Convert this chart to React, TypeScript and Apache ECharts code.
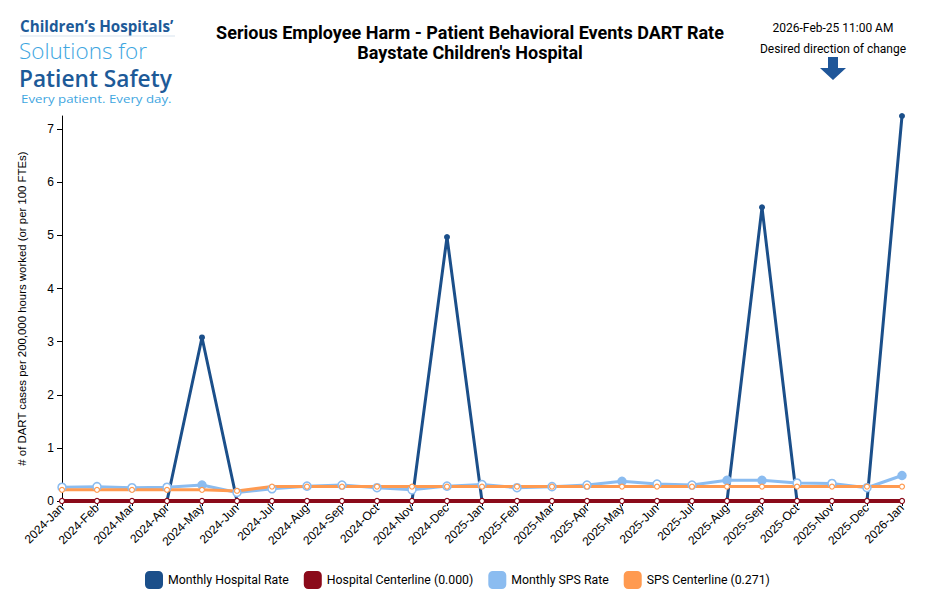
import React, { useEffect, useRef } from "react";
import * as echarts from "echarts";

const months = [
  "2024-Jan", "2024-Feb", "2024-Mar", "2024-Apr", "2024-May", "2024-Jun", "2024-Jul", "2024-Aug",
  "2024-Sep", "2024-Oct", "2024-Nov", "2024-Dec", "2025-Jan", "2025-Feb", "2025-Mar", "2025-Apr",
  "2025-May", "2025-Jun", "2025-Jul", "2025-Aug", "2025-Sep", "2025-Oct", "2025-Nov", "2025-Dec",
  "2026-Jan",
];
const hospitalRate = [0, 0, 0, 0, 3.08, 0, 0, 0, 0, 0, 0, 4.97, 0, 0, 0, 0, 0, 0, 0, 0, 5.53, 0, 0, 0, 7.25];
const hospitalCenterline = [0, 0, 0, 0, 0, 0, 0, 0, 0, 0, 0, 0, 0, 0, 0, 0, 0, 0, 0, 0, 0, 0, 0, 0, 0];
const spsRate = [0.26, 0.27, 0.25, 0.26, 0.3, 0.16, 0.23, 0.28, 0.3, 0.25, 0.21, 0.28, 0.31, 0.25, 0.27, 0.3, 0.37, 0.32, 0.3, 0.39, 0.39, 0.34, 0.33, 0.25, 0.48];
const spsSignal = [false, false, false, false, true, false, false, false, false, false, false, false, false, false, false, false, true, false, false, true, true, false, false, false, true];
const spsCenterline = [0.21, 0.21, 0.21, 0.21, 0.21, 0.19, 0.271, 0.271, 0.271, 0.271, 0.271, 0.271, 0.271, 0.271, 0.271, 0.271, 0.271, 0.271, 0.271, 0.271, 0.271, 0.271, 0.271, 0.271, 0.271];
const yTicks = [0, 1, 2, 3, 4, 5, 6, 7];

const titleText = "Serious Employee Harm - Patient Behavioral Events DART Rate";
const subtitleText = "Baystate Children's Hospital";
const stampText = "2026-Feb-25 11:00 AM";
const directionText = "Desired direction of change";
const yAxisName = "# of DART cases per 200,000 hours worked (or per 100 FTEs)";
const seriesNames = ["Monthly Hospital Rate", "Hospital Centerline (0.000)", "Monthly SPS Rate", "SPS Centerline (0.271)"];

const C_DARK = "#1b4f8a";
const C_RED = "#8b0a1a";
const C_LIGHT = "#8bbcf0";
const C_ORANGE = "#ff9a50";
const LOGO_DARK = "#1d5a98";
const LOGO_LIGHT = "#3ea6df";
const legendColors = [C_DARK, C_RED, C_LIGHT, C_ORANGE];

export default function App() {
  const ref = useRef<HTMLDivElement>(null);
  useEffect(() => {
    document.body.style.margin = "0";
    if (!ref.current) return;
    const chart = echarts.init(ref.current, null, { renderer: "svg" });
    const option: any = {
      animation: false,
      backgroundColor: "#ffffff",
      textStyle: { fontFamily: "Roboto" },
      grid: { left: 62, right: 29, top: 116, bottom: 101, containLabel: false },
      title: [
        {
          text: titleText,
          subtext: subtitleText,
          left: 465,
          textAlign: "center",
          top: 18,
          itemGap: 2,
          textStyle: { fontFamily: "Roboto", fontSize: 18, fontWeight: "bold", color: "#000" },
          subtextStyle: { fontFamily: "Roboto", fontSize: 18, fontWeight: "bold", color: "#000" },
        },
      ],
      legend: {
        bottom: 8,
        left: 140,
        itemWidth: 18,
        itemHeight: 18,
        itemGap: 15,
        icon: "roundRect",
        data: seriesNames.map((n, i) => ({
          name: n,
          itemStyle: { color: legendColors[i], borderWidth: 0 },
        })),
        textStyle: { fontFamily: "Roboto", fontSize: 12.3, color: "#000" },
      },
      xAxis: {
        type: "category",
        data: months,
        boundaryGap: false,
        axisLine: { lineStyle: { color: "#000", width: 1 } },
        axisTick: { show: true, alignWithLabel: true, length: 5, lineStyle: { color: "#000" } },
        axisLabel: { rotate: 45, fontSize: 12, color: "#000", fontFamily: "Liberation Sans", margin: 5, interval: 0 },
        splitLine: { show: false },
      },
      yAxis: {
        type: "value",
        min: 0,
        max: "dataMax",
        interval: 1,
        name: yAxisName,
        nameLocation: "middle",
        nameGap: 35,
        nameTextStyle: { fontFamily: "Liberation Sans", fontSize: 11.4, color: "#000" },
        axisLine: { show: true, lineStyle: { color: "#000", width: 1 } },
        axisTick: { show: true, length: 5, lineStyle: { color: "#000" } },
        axisLabel: {
          fontSize: 12,
          color: "#000",
          fontFamily: "Liberation Sans",
          showMaxLabel: false,
          formatter: (v: number) => (yTicks.indexOf(v) >= 0 ? String(v) : ""),
        },
        splitLine: { show: false },
      },
      series: [
        {
          name: seriesNames[0],
          type: "line",
          z: 2,
          color: C_DARK,
          lineStyle: { color: C_DARK, width: 3 },
          symbol: "circle",
          symbolSize: 6,
          itemStyle: { color: C_DARK },
          data: hospitalRate.map((v) => (v > 0 ? { value: v } : { value: v, symbol: "none" })),
        },
        {
          name: seriesNames[1],
          type: "line",
          z: 3,
          color: C_RED,
          lineStyle: { color: C_RED, width: 4 },
          symbol: "circle",
          symbolSize: 5,
          itemStyle: { color: "#fff", borderColor: C_RED, borderWidth: 1.2 },
          data: hospitalCenterline,
        },
        {
          name: seriesNames[2],
          type: "line",
          z: 4,
          color: C_LIGHT,
          lineStyle: { color: C_LIGHT, width: 3 },
          symbol: "circle",
          symbolSize: 8,
          itemStyle: { color: "#fff", borderColor: C_LIGHT, borderWidth: 1.5 },
          data: spsRate.map((v, i) =>
            spsSignal[i] ? { value: v, itemStyle: { color: C_LIGHT, borderColor: C_LIGHT } } : { value: v }
          ),
        },
        {
          name: seriesNames[3],
          type: "line",
          z: 4,
          color: C_ORANGE,
          lineStyle: { color: C_ORANGE, width: 3 },
          symbol: "circle",
          symbolSize: 5,
          itemStyle: { color: "#fff", borderColor: C_ORANGE, borderWidth: 1.2 },
          data: spsCenterline,
        },
      ],
      graphic: [
        {
          type: "text",
          x: 20,
          y: 26,
          style: {
            text: "Children\u2019s Hospitals\u2019",
            fill: LOGO_DARK,
            font: "bold 15.2px 'Open Sans'",
            lineHeight: 15,
            verticalAlign: "middle",
          },
        },
        { type: "line", shape: { x1: 20, y1: 36, x2: 175, y2: 36 }, style: { stroke: "#d7e3ee", lineWidth: 1 } },
        {
          type: "text",
          x: 19,
          y: 50,
          style: {
            text: "Solutions for",
            fill: LOGO_LIGHT,
            font: "300 22.5px 'Open Sans'",
            lineHeight: 22,
            verticalAlign: "middle",
          },
        },
        {
          type: "text",
          x: 19,
          y: 78,
          style: {
            text: "Patient Safety",
            fill: LOGO_DARK,
            font: "600 22.7px 'Open Sans'",
            lineHeight: 22,
            verticalAlign: "middle",
          },
        },
        {
          type: "text",
          x: 21,
          y: 99,
          scaleX: 1.21,
          style: {
            text: "Every patient. Every day.",
            fill: LOGO_LIGHT,
            font: "11px 'Open Sans'",
            lineHeight: 11,
            verticalAlign: "middle",
          },
        },
        {
          type: "text",
          x: 833,
          y: 28,
          style: { text: stampText, fill: "#000", font: "12px Roboto", align: "center", verticalAlign: "middle" },
        },
        {
          type: "text",
          x: 833,
          y: 49,
          style: { text: directionText, fill: "#000", font: "12px Roboto", align: "center", verticalAlign: "middle" },
        },
        {
          type: "polygon",
          shape: {
            points: [
              [828, 57], [838, 57], [838, 68], [846, 68], [833, 80], [820, 68], [828, 68],
            ],
          },
          style: { fill: "#1f5699" },
        },
      ],
    };
    chart.setOption(option);
    return () => chart.dispose();
  }, []);
  return <div ref={ref} style={{ width: 931, height: 602 }} />;
}
